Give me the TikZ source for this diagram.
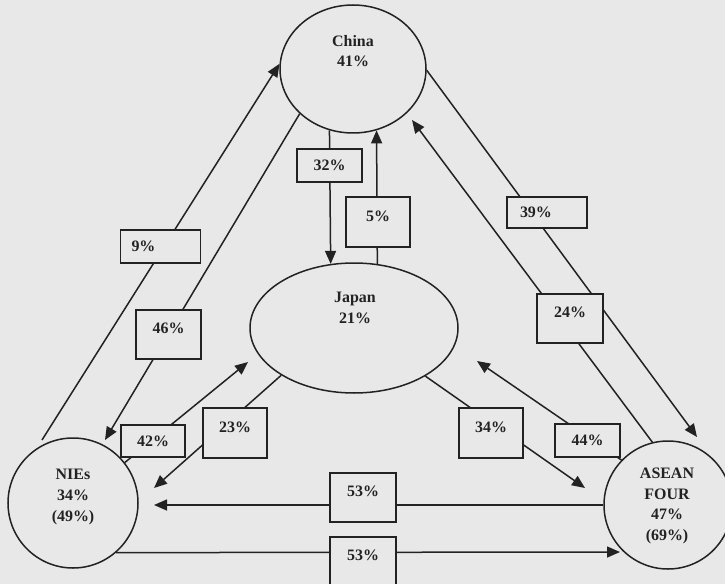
\documentclass[tikz,border=0pt]{standalone}
\usepackage{fontspec}
\setmainfont{Liberation Serif}
\usetikzlibrary{arrows.meta,shapes.geometric}
\definecolor{bg}{HTML}{E8E8E8}
\definecolor{ink}{HTML}{222222}
\begin{document}
\begin{tikzpicture}[x=1bp,y=-1bp,
  shp/.style={draw=ink, line width=1.5bp, inner sep=0pt},
  conn/.style={draw=ink, line width=1.5bp},
  arr/.style={conn, -{Triangle[length=13bp,width=11bp]}},
  pct/.style={draw=ink, line width=1.5bp, fill=bg, inner sep=0pt, text=ink,
    font=\bfseries\fontsize{16}{20}\selectfont},
  tall/.style={text depth=12bp},
  lbl/.style={text=ink, align=center, font=\bfseries\fontsize{16}{20.8}\selectfont},
  ]
\fill[bg] (0,0) rectangle (725,584);
\useasboundingbox (0,0) rectangle (725,584);

% main nodes
\node[shp, ellipse, minimum width=146bp, minimum height=128bp] (china) at (353,69) {};
\node[shp, ellipse, minimum width=208bp, minimum height=130bp] (japan) at (354,328) {};
\node[shp, circle, minimum size=130bp] (nies) at (73,503) {};
\node[shp, circle, minimum size=128bp] (asean) at (668,505) {};

\node[lbl] (chinaT) at (353,51) {China\\41\%};
\node[lbl] (japanT) at (355,308) {Japan\\21\%};
\node[lbl] (niesT) at (73,497) {NIEs\\34\%\\(49\%)};
\node[lbl] (aseanT) at (667,506) {ASEAN\\FOUR\\47\%\\(69\%)};

% free ends
\coordinate (s9) at (42,440);
\coordinate (t46) at (105,440);
\coordinate (t39) at (697,437);
\coordinate (t24) at (412,120);
\coordinate (t23) at (154,488);
\coordinate (t42) at (248,362);
\coordinate (t34) at (585,488);
\coordinate (t44) at (477,361);
\coordinate (tU) at (154,505);
\coordinate (tL) at (620,552);

% connectors
\draw[arr] (s9) -- (china.176);
\draw[arr] (china.220) -- (t46);
\draw[arr] (china.249.3) -- (japan.110.8);
\draw[arr] (japan.70.06) -- (china.291.7);
\draw[arr] (china.359) -- (t39);
\draw[arr] (asean.104) -- (t24);
\draw[arr] (japan.213.1) -- (t23);
\draw[arr] (nies.38.9) -- (t42);
\draw[arr] (japan.326.7) -- (t34);
\draw[arr] (asean.136.6) -- (t44);
\draw[arr] (asean.180) -- (tU);
\draw[arr] (nies.-49) -- (tL);

% percentage boxes
\node[pct, minimum width=80bp, minimum height=33bp, text width=58bp, align=left] (b9) at (160.5,246.5) {9\%};
\node[pct, tall, minimum width=65bp, minimum height=49bp] (b46) at (168.5,334.5) {46\%};
\node[pct, minimum width=65bp, minimum height=33bp] (b32) at (329.5,165.5) {32\%};
\node[pct, tall, minimum width=64bp, minimum height=50bp] (b5) at (378,222) {5\%};
\node[pct, minimum width=80bp, minimum height=31bp, text width=54bp, align=left] (b39) at (547,212.5) {39\%};
\node[pct, tall, minimum width=66bp, minimum height=49bp] (b24) at (570,318.5) {24\%};
\node[pct, minimum width=64bp, minimum height=32bp] (b42) at (153,441) {42\%};
\node[pct, tall, minimum width=64bp, minimum height=50bp] (b23) at (235,433) {23\%};
\node[pct, tall, minimum width=64bp, minimum height=50bp] (b34) at (491,433) {34\%};
\node[pct, minimum width=65bp, minimum height=33bp] (b44) at (587.5,440.5) {44\%};
\node[pct, tall, minimum width=66bp, minimum height=49bp] (b53u) at (363,497.5) {53\%};
\node[pct, tall, minimum width=66bp, minimum height=49bp] (b53l) at (363,561.5) {53\%};
\end{tikzpicture}
\end{document}
